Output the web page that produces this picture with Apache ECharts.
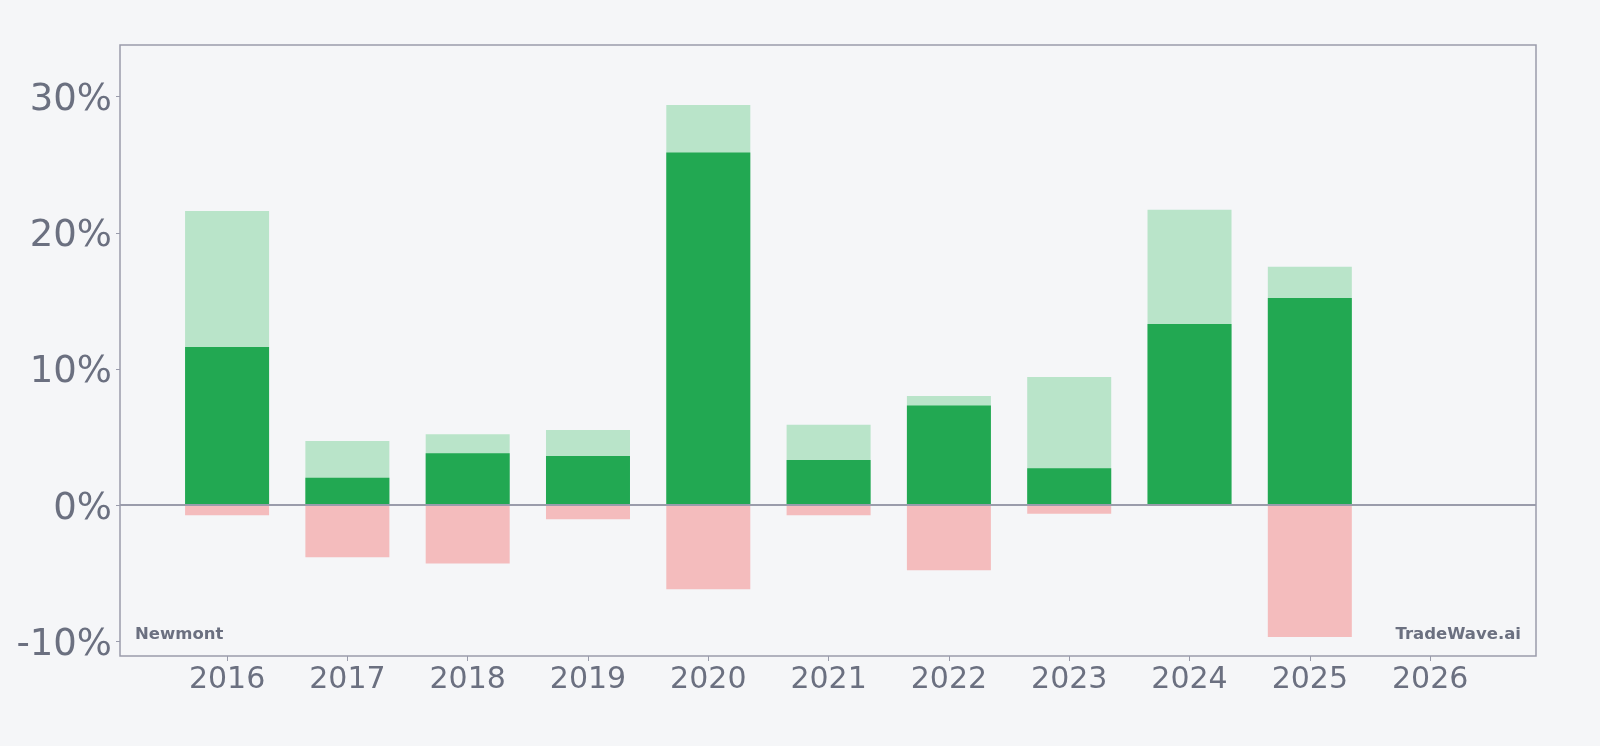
<!DOCTYPE html>
<html>
<head>
<meta charset="utf-8">
<script src="https://cdn.jsdelivr.net/npm/echarts@6/dist/echarts.min.js"></script>
<style>
    html, body {margin: 0; padding: 0; background: #f5f6f8;}
    #chart {width: 1600px; height: 746px;}
</style>
</head>
<body>
<div id="chart"></div>
<script>
    // 年份与三组数值 (%)
    const years = [2016, 2017, 2018, 2019, 2020, 2021, 2022, 2023, 2024, 2025, 2026];
    const maxGain = [21.6, 4.7, 5.2, 5.5, 29.4, 5.9, 8.0, 9.4, 21.7, 17.5, null];
    const yearReturn = [11.6, 2.0, 3.8, 3.6, 25.9, 3.3, 7.3, 2.7, 13.3, 15.2, null];
    const maxDrawdown = [-0.75, -3.85, -4.3, -1.05, -6.2, -0.75, -4.8, -0.65, 0, -9.7, null];
    const yTicks = [-10, 0, 10, 20, 30];

    const pair = arr => years.map((y, i) => [y, arr[i]]);

    const gray = '#6b7080';
    const lineGray = '#9a9cab';

    let myChart = echarts.init(document.getElementById('chart'));
    myChart.setOption({
        backgroundColor: '#f5f6f8',
        animation: false,
        textStyle: {fontFamily: 'DejaVu Sans'},
        grid: {
            left: 120, right: 64, top: 45, bottom: 90,
            show: true, borderColor: lineGray, borderWidth: 1.5,
            containLabel: false
        },
        xAxis: {
            type: 'value',
            min: 2015.11,
            max: 2026.88,
            splitLine: {show: false},
            axisLine: {show: false, onZero: false},
            axisTick: {show: true, length: 5, lineStyle: {color: lineGray}, customValues: years},
            axisLabel: {
                color: gray, fontSize: 30, margin: 9,
                customValues: years,
                formatter: v => String(v)
            }
        },
        yAxis: {
            type: 'value',
            min: -11.1,
            max: 33.8,
            splitLine: {show: false},
            axisLine: {show: false},
            axisTick: {show: true, length: 4, lineStyle: {color: lineGray}, customValues: yTicks},
            axisLabel: {
                margin: 8,
                customValues: yTicks,
                formatter: v => '{t|' + v + '%}',
                rich: {
                    t: {color: gray, fontSize: 37, fontFamily: 'DejaVu Sans', padding: [8, 0, 0, 0]}
                }
            }
        },
        graphic: [
            {
                type: 'text', left: 135, top: 626,
                style: {text: 'Newmont', fill: gray, font: 'bold 16.5px "DejaVu Sans"'}
            },
            {
                type: 'text', right: 79, top: 626,
                style: {text: 'TradeWave.ai', fill: gray, font: 'bold 16.5px "DejaVu Sans"', textAlign: 'right'}
            }
        ],
        series: [
            {
                name: 'max', type: 'bar', barWidth: 84, barGap: '-100%',
                itemStyle: {color: '#b9e4c9'},
                data: pair(maxGain),
                markLine: {
                    silent: true, symbol: 'none', label: {show: false},
                    lineStyle: {color: lineGray, width: 2, type: 'solid'},
                    data: [{yAxis: 0}]
                }
            },
            {
                name: 'return', type: 'bar', barWidth: 84, barGap: '-100%',
                itemStyle: {color: '#22a852'},
                data: pair(yearReturn)
            },
            {
                name: 'drawdown', type: 'bar', barWidth: 84, barGap: '-100%',
                itemStyle: {color: '#f4bcbd'},
                data: pair(maxDrawdown)
            }
        ]
    });
</script>
</body>
</html>
